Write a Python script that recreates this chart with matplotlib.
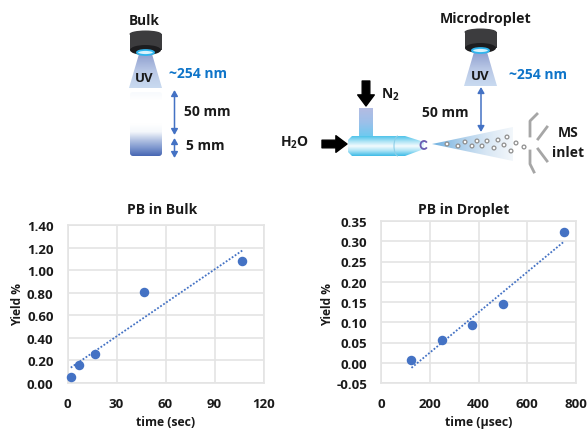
import numpy as np
import matplotlib
matplotlib.use('Agg')
import matplotlib.pyplot as plt
from matplotlib.colors import LinearSegmentedColormap
from matplotlib.patches import Polygon, Rectangle, Circle, FancyBboxPatch, Arc, Ellipse

plt.rcParams['font.family'] = ['Open Sans', 'DejaVu Sans']
plt.rcParams['font.weight'] = 'bold'
plt.rcParams['mathtext.fontset'] = 'custom'
plt.rcParams['mathtext.bf'] = 'Open Sans:bold'
plt.rcParams['mathtext.rm'] = 'Open Sans:bold'
plt.rcParams['mathtext.default'] = 'bf'

# chart data
bulk_time = [2, 7, 17, 47, 107]
bulk_yield = [0.05, 0.16, 0.26, 0.81, 1.08]
bulk_xticks = [0, 30, 60, 90, 120]
bulk_yticks = [0.0, 0.2, 0.4, 0.6, 0.8, 1.0, 1.2, 1.4]

drop_time = [125, 250, 375, 500, 750]
drop_yield = [0.006, 0.055, 0.094, 0.144, 0.323]
drop_xticks = [0, 200, 400, 600, 800]
drop_yticks = [-0.05, 0, 0.05, 0.10, 0.15, 0.20, 0.25, 0.30, 0.35]

# schematic droplets, pixel positions
spray_x = [447, 458, 465, 472, 477, 482, 487, 494, 498, 504, 507, 516, 524, 511]
spray_y = [145, 147, 143, 147, 142, 147, 142, 149, 141, 146, 138, 144, 148, 152]

BLUE = '#4472c4'
TXT = '#1a1a1a'
UV_BLUE = '#0f75c9'

fig = plt.figure(figsize=(5.88, 4.31), dpi=100)

# full figure axes in pixels for the schematic
bg = fig.add_axes([0, 0, 1, 1])
bg.set_xlim(0, 588)
bg.set_ylim(431, 0)
bg.axis('off')


def grad(ax, box, colors, clip=None, horizontal=False):
    cmap = LinearSegmentedColormap.from_list('g', colors)
    arr = np.linspace(0, 1, 64)
    arr = arr.reshape(1, -1) if horizontal else arr.reshape(-1, 1)
    im = ax.imshow(arr, extent=(box[0], box[1], box[3], box[2]), cmap=cmap,
                   aspect='auto', zorder=2, interpolation='bilinear')
    if clip is not None:
        clip.set_transform(ax.transData)
        im.set_clip_path(clip)
    return im


def lamp(ax, x0, y0):
    # cone first so the lamp body sits over it
    cone = Polygon([(x0 + 10, y0 + 24), (x0 + 23, y0 + 24), (x0 + 33, y0 + 58), (x0, y0 + 58)])
    grad(ax, (x0, x0 + 33, y0 + 24, y0 + 58), ['#8f9fcf', '#b9c8e6', '#c9daf0'], clip=cone)
    ax.add_patch(Ellipse((x0 + 16.5, y0 + 4), 32, 7, fc='#3c3c3e', ec='none', zorder=3))
    ax.add_patch(Rectangle((x0 + 0.5, y0 + 4), 32, 16, fc='#3c3c3e', ec='none', zorder=3))
    ax.add_patch(Ellipse((x0 + 16.5, y0 + 20), 31, 10, fc='#1d1d1f', ec='none', zorder=3))
    ax.add_patch(Ellipse((x0 + 16.5, y0 + 22.5), 17, 5, fc='#d8f2fc', ec='#2fb5ee', lw=1.3, zorder=4))


def dbl_arrow(ax, x, y1, y2):
    ax.annotate('', xy=(x, y1), xytext=(x, y2), zorder=5,
                arrowprops=dict(arrowstyle='<|-|>,head_width=0.2,head_length=0.35',
                                color=BLUE, lw=1.1, shrinkA=0, shrinkB=0))


def black_arrow(ax, x1, y1, x2, y2):
    ax.annotate('', xy=(x2, y2), xytext=(x1, y1), zorder=5,
                arrowprops=dict(width=5.5, headwidth=12, headlength=8,
                                color='black', shrinkA=0, shrinkB=0))


# bulk side
lamp(bg, 129, 31)
bg.text(144, 21, 'Bulk', ha='center', va='center', fontsize=9.8, color=TXT)
bg.text(144, 79, 'UV', ha='center', va='center', fontsize=9.5, color=TXT, zorder=6)
bg.text(198, 74, '~254 nm', ha='center', va='center', fontsize=10, color=UV_BLUE)
dbl_arrow(bg, 174.5, 91, 136)
dbl_arrow(bg, 174.5, 139, 159)
bg.text(207, 112, '50 mm', ha='center', va='center', fontsize=10, color=TXT)
bg.text(205, 146, '5 mm', ha='center', va='center', fontsize=10, color=TXT)
vial = FancyBboxPatch((130, 93), 32, 64, boxstyle='round,pad=0,rounding_size=3')
grad(bg, (130, 162, 93, 157), ['#f8fafd', '#ffffff', '#ffffff', '#ffffff', '#ffffff',
                               '#f4f7fb', '#b6c5e4', '#7f98cf', '#4a69b4'], clip=vial)

# microdroplet side
lamp(bg, 464, 29)
bg.text(486, 19, 'Microdroplet', ha='center', va='center', fontsize=10.2, color=TXT)
bg.text(480, 77, 'UV', ha='center', va='center', fontsize=9.5, color=TXT, zorder=6)
bg.text(538, 75, '~254 nm', ha='center', va='center', fontsize=10, color=UV_BLUE)
dbl_arrow(bg, 481, 88, 133)
bg.text(445, 113, '50 mm', ha='center', va='center', fontsize=10, color=TXT)

# spray source
gas = Rectangle((359, 109), 14, 29)
grad(bg, (359, 373, 109, 138), ['#b4bce2', '#9cc0ea', '#6ccaf0'], clip=gas)
tube = Polygon([(352, 137), (405, 137), (424, 143), (424, 150), (405, 157), (352, 157),
                (348, 153), (348, 141)])
grad(bg, (348, 424, 137, 157), ['#4fc3ea', '#a9e2f5', '#f4fbfe', '#a9e2f5', '#3fbbe6'], clip=tube)
bg.add_patch(Arc((398, 147), 8, 20, theta1=90, theta2=270, color='#8ccfe8', lw=0.8, zorder=3))
bg.add_patch(Arc((424, 146), 7, 8, theta1=40, theta2=320, color='#6a5bb0', lw=1.3, zorder=4))
black_arrow(bg, 366, 82, 366, 107)
black_arrow(bg, 322, 145, 347, 145)
bg.text(390, 95, 'N$_2$', ha='center', va='center', fontsize=10, color=TXT)
bg.text(294, 143, 'H$_2$O', ha='center', va='center', fontsize=10, color=TXT)

plume = Polygon([(432, 145), (513, 128), (513, 162)])
grad(bg, (432, 513, 128, 162), ['#6fb0e0', '#a9cdea', '#d7e6f4', '#f2f7fb'], clip=plume, horizontal=True)
for sx, sy in zip(spray_x, spray_y):
    bg.add_patch(Circle((sx, sy), 1.9, fc='white', ec='#8f8f8f', lw=0.9, zorder=4))

for seg_x, seg_y in [([537, 530, 530], [115, 122, 137]), ([547, 538], [128, 140]),
                     ([538, 547], [150, 162]), ([530, 530, 534], [152, 165, 173])]:
    bg.plot(seg_x, seg_y, color='#a6a6a6', lw=2.0, zorder=3)
bg.text(568, 133, 'MS', ha='center', va='center', fontsize=10, color=TXT)
bg.text(568, 153, 'inlet', ha='center', va='center', fontsize=10, color=TXT)


def panel(rect, title, title_x, x, y, xticks, yticks, xlabel, xlabel_x, ylim, ylab_x):
    l, t, r, b = rect
    ax = fig.add_axes([l / 588, 1 - b / 431, (r - l) / 588, (b - t) / 431])
    ax.patch.set_alpha(0)
    ax.set_xlim(xticks[0], xticks[-1])
    ax.set_ylim(*ylim)
    ax.set_xticks(xticks)
    ax.set_yticks(yticks)
    ax.set_yticklabels(['%.2f' % v for v in yticks])
    ax.grid(True, color='#e4e4e4', lw=1.2)
    ax.set_axisbelow(True)
    for s in ax.spines.values():
        s.set_color('#e4e4e4')
        s.set_linewidth(1.2)
    ax.tick_params(length=0, labelsize=9.5, labelcolor=TXT, pad=10)
    ax.tick_params(axis='x', pad=10)
    poly = np.poly1d(np.polyfit(x, y, 1))
    ends = np.array([x[0], x[-1]])
    ax.plot(ends, poly(ends), ls=(0, (1, 1)), color=BLUE, lw=1.3, zorder=3)
    ax.scatter(x, y, s=34, color=BLUE, zorder=4, clip_on=False)
    bg.text(title_x, 210, title, ha='center', va='center', fontsize=10, color=TXT)
    bg.text(xlabel_x, 423, xlabel, ha='center', va='center', fontsize=8.8, color=TXT)
    bg.text(ylab_x, 305, 'Yield %', ha='center', va='center', rotation=90, fontsize=8.6, color=TXT)
    return ax


panel((67.5, 226, 263.5, 384), 'PB in Bulk', 162, bulk_time, bulk_yield, bulk_xticks, bulk_yticks,
      'time (sec)', 166, (0, 1.4), 17.5)
panel((381, 222, 576, 384), 'PB in Droplet', 464, drop_time, drop_yield, drop_xticks, drop_yticks,
      'time (\u00b5sec)', 479, (-0.05, 0.35), 328)

fig.savefig('out.png', dpi=100)
